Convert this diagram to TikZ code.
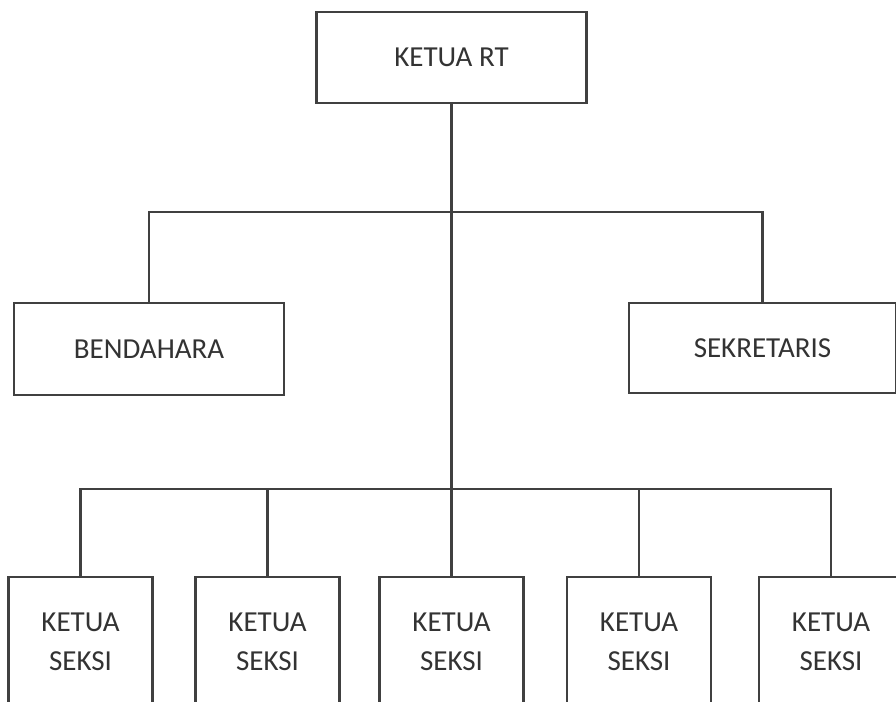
\documentclass[tikz,border=0pt]{standalone}
\usepackage{fontspec}
\setmainfont{Carlito}
\usepackage{tikz}
\usetikzlibrary{positioning}

\begin{document}
\begin{tikzpicture}[x=0.02cm, y=-0.02cm]
				\tikzset{box/.style = {shape=rectangle, draw=black!75, line width=1.5pt,
						text=black!80, align=center, inner sep=0pt,
						font=\fontsize{16.5}{22.2}\selectfont}}
				\tikzset{seksi/.style = {box, minimum width=2.88cm, minimum height=2.6cm}}
				\tikzset{conn/.style = {draw=black!75, line width=1.2pt}}
				
				\useasboundingbox (0,0) rectangle (896,702);
				\clip (0,0) rectangle (896,702);
				
				% vertices
				\node[box, minimum width=5.4cm, minimum height=1.82cm] (rt) at (451.5,57.5) {KETUA RT};
				\node[box, minimum width=5.4cm, minimum height=1.84cm] (bend) at (149,349) {BENDAHARA};
				\node[box, minimum width=5.34cm, minimum height=1.8cm] (sekr) at (762.5,348) {SEKRETARIS};
				
				\node[seksi] (seksiA) at (80.5,642) {KETUA\\SEKSI};
				\node[seksi] (seksiB) at (267.5,642) {KETUA\\SEKSI};
				\node[seksi] (seksiC) at (451.5,642) {KETUA\\SEKSI};
				\node[seksi] (seksiD) at (639,642) {KETUA\\SEKSI};
				\node[seksi] (seksiE) at (831,642) {KETUA\\SEKSI};
				
				\coordinate (busTop) at (451.5,212);
				\coordinate (busLow) at (451.5,489);
				
				%edges
				
				\draw[conn] (rt.south) -- (seksiC.north);
				\draw[conn] (bend.north) |- (busTop) -| (sekr.north);
				\draw[conn] (seksiA.north) |- (busLow) -| (seksiE.north);
				\foreach \s in {seksiB, seksiD}
					\draw[conn] (\s.north) -- (\s.north |- busLow);
								
				\end{tikzpicture}
\end{document}
